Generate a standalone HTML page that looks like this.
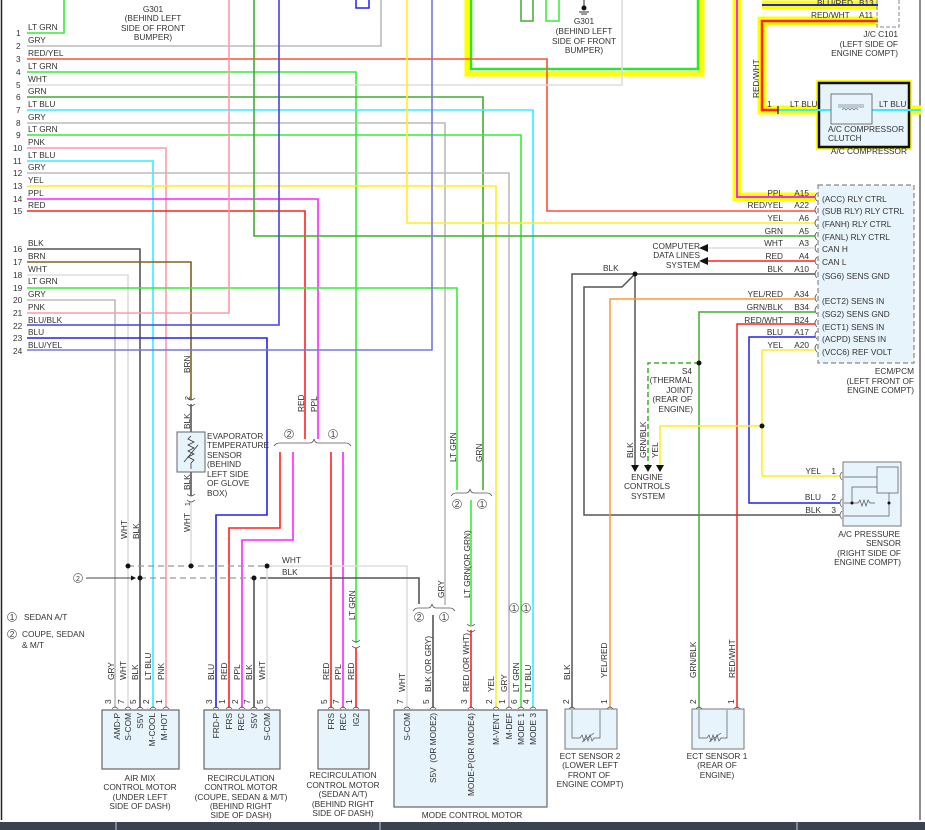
<!DOCTYPE html>
<html><head><meta charset="utf-8"><style>
html,body{margin:0;padding:0;background:#fff;}
svg{display:block;font-family:"Liberation Sans",sans-serif;}
text{font-size:8.3px;fill:#333;}
</style></head><body>
<svg width="925" height="830" viewBox="0 0 925 830" xmlns="http://www.w3.org/2000/svg">
<rect width="925" height="830" fill="#fff"/>
<line x1="1.5" y1="0" x2="1.5" y2="820" stroke="#222" stroke-width="1.5"/>
<line x1="920" y1="0" x2="920" y2="820" stroke="#444" stroke-width="1.2"/>

<!-- top-right yellow/green box -->
<rect x="467" y="-5" width="235" height="79" fill="none" stroke="#ffff00" stroke-width="5"/>
<rect x="471" y="-5" width="227" height="74" fill="none" stroke="#22ee22" stroke-width="2.5"/>
<rect x="521" y="-2" width="12" height="23" fill="none" stroke="#44aa33" stroke-width="1.5"/>
<rect x="546" y="-2" width="13" height="23" fill="none" stroke="#33ee33" stroke-width="1.5"/>
<line x1="584" y1="0" x2="584" y2="6" stroke="#222"/><circle cx="584" cy="8" r="2.5" fill="#111"/>
<line x1="579" y1="12" x2="589" y2="12" stroke="#333"/><line x1="581" y1="14" x2="587" y2="14" stroke="#333"/>
<g text-anchor="middle"><text x="584" y="24">G301</text><text x="584" y="34">(BEHIND LEFT</text><text x="584" y="44">SIDE OF FRONT</text><text x="584" y="53">BUMPER)</text></g>
<g text-anchor="middle"><text x="153" y="12">G301</text><text x="153" y="21">(BEHIND LEFT</text><text x="153" y="31">SIDE OF FRONT</text><text x="153" y="40">BUMPER)</text></g>
<rect x="356" y="-2" width="13" height="10" fill="none" stroke="#2222ee" stroke-width="1.5"/>

<g fill="none" stroke-width="1.6">
<!-- 1 LT GRN -->
<polyline points="27,33 64,33 64,0" stroke="#33ee33"/>
<!-- 2 GRY -->
<polyline points="27,46 381,46 381,0" stroke="#bbb"/>
<!-- 3 RED/YEL -->
<polyline points="27,59 547,59 547,211 815,211" stroke="#ff5030"/>
<!-- 4 LT GRN -> sedan recirc -->
<polyline points="27,72 356,72 356,643" stroke="#33ee33"/>
<!-- 5 WHT -->
<polyline points="27,85 622,85 622,0" stroke="#ddd"/>
<!-- 6 GRN -->
<polyline points="27,97 483,97 483,490" stroke="#44aa33"/>
<!-- 7 LT BLU -->
<polyline points="27,110 533,110 533,708" stroke="#33eeff"/>
<!-- 8 GRY -->
<polyline points="27,123 445,123 445,605" stroke="#bbb"/>
<!-- 9 LT GRN -->
<polyline points="27,135 521,135 521,708" stroke="#33ee33"/>
<!-- 10 PNK -->
<polyline points="27,148 166,148 166,708" stroke="#ff99aa"/>
<!-- 11 LT BLU -->
<polyline points="27,161 153,161 153,708" stroke="#33eeff"/>
<!-- 12 GRY -->
<polyline points="27,173 509,173 509,708" stroke="#bbb"/>
<!-- 13 YEL -->
<polyline points="27,186 496,186 496,708" stroke="#ffee22"/>
<!-- 14 PPL -->
<polyline points="27,199 318,199 318,439" stroke="#ff22ff"/>
<!-- 15 RED -->
<polyline points="27,211 305,211 305,439" stroke="#ff2020"/>
<!-- yel top -->
<polyline points="407,0 407,223 815,223" stroke="#ffee22"/>
<!-- GRN A5 -->
<polyline points="254,0 254,236 815,236" stroke="#44aa33"/>
<!-- 16 BLK -->
<polyline points="27,249 140,249 140,708" stroke="#555"/>
<!-- 17 BRN -->
<polyline points="27,262 191,262 191,400" stroke="#806020"/>
<!-- 18 WHT -->
<polyline points="27,275 128,275 128,708" stroke="#ddd"/>
<!-- 19 LT GRN -->
<polyline points="27,288 457,288 457,490" stroke="#33ee33"/>
<!-- 20 GRY -->
<polyline points="27,300 115,300 115,708" stroke="#bbb"/>
<!-- 21 PNK -->
<polyline points="27,313 229,313 229,0" stroke="#ff99aa"/>
<!-- 22 BLU/BLK -->
<polyline points="27,325 279,325 279,0" stroke="#4444dd"/>
<!-- 23 BLU -->
<polyline points="27,338 267,338 267,515 216,515 216,708" stroke="#2222ee"/>
<!-- 24 BLU/YEL -->
<polyline points="27,350 432,350 432,0" stroke="#7777dd"/>
<!-- recirc coupe red/ppl -->
<polyline points="280,452 280,528 229,528 229,708" stroke="#ff2020"/>
<polyline points="293,452 293,540 242,540 242,708" stroke="#ff22ff"/>
<line x1="331" y1="452" x2="331" y2="708" stroke="#ff2020"/>
<line x1="343" y1="452" x2="343" y2="708" stroke="#ff22ff"/>
<line x1="356" y1="648" x2="356" y2="708" stroke="#ff2020"/>
<!-- mode motor -->
<polyline points="471,500 471,625" stroke="#33ee33"/>
<polyline points="471,630 471,708" stroke="#ff2020"/>
<line x1="433" y1="615" x2="433" y2="708" stroke="#555"/>
<!-- evap -->
<line x1="191" y1="404" x2="191" y2="432" stroke="#555"/>
<line x1="191" y1="472" x2="191" y2="496" stroke="#555"/>
<line x1="191" y1="502" x2="191" y2="566" stroke="#ddd"/>
<!-- WHT / BLK buses -->
<polyline points="267,566 407,566 407,708" stroke="#ddd"/>
<polyline points="260,578 419,578 419,604" stroke="#555"/>
<line x1="254" y1="578" x2="254" y2="708" stroke="#555"/>
<line x1="267" y1="566" x2="267" y2="708" stroke="#ddd"/>
</g>
<g stroke-dasharray="6,4" stroke-width="1.2" fill="none">
<line x1="128" y1="566" x2="267" y2="566" stroke="#999"/>
<line x1="140" y1="578" x2="254" y2="578" stroke="#999"/>
</g>
<g fill="#111">
<circle cx="128" cy="566" r="2.5"/><circle cx="191" cy="566" r="2.5"/><circle cx="267" cy="566" r="2.5"/>
<circle cx="140" cy="578" r="2.5"/><circle cx="254" cy="578" r="2.5"/>
</g>
<line x1="86" y1="578" x2="133" y2="578" stroke="#444"/><polygon points="136,578 131,575.5 131,580.5" fill="#111"/>
<circle cx="78" cy="578" r="4.5" fill="none" stroke="#666" stroke-width="0.7"/><text x="78" y="581" text-anchor="middle" style="font-size:7px">2</text>

<!-- brackets -->
<g fill="none" stroke="#555" stroke-width="0.8">
<path d="M274,446 Q276,443 280,443 L310,443 Q313,443 314,439 Q315,443 318,443 L346,443 Q349,443 351,446"/>
<path d="M451,496 Q453,493 456,493 L466,493 Q469,493 470,489 Q471,493 474,493 L487,493 Q490,493 492,496"/>
<path d="M413,611 Q415,608 418,608 L428,608 Q431,608 432,604 Q433,608 436,608 L450,608 Q453,608 455,611"/>
</g>
<g text-anchor="middle" style="font-size:7px">
<circle cx="289" cy="434" r="4.5" fill="none" stroke="#666" stroke-width="0.7"/><text x="289" y="437">2</text>
<circle cx="333" cy="434" r="4.5" fill="none" stroke="#666" stroke-width="0.7"/><text x="333" y="437">1</text>
<circle cx="457" cy="504" r="4.5" fill="none" stroke="#666" stroke-width="0.7"/><text x="457" y="507">2</text>
<circle cx="482" cy="504" r="4.5" fill="none" stroke="#666" stroke-width="0.7"/><text x="482" y="507">1</text>
<circle cx="419" cy="617" r="4.5" fill="none" stroke="#666" stroke-width="0.7"/><text x="419" y="620">2</text>
<circle cx="444" cy="617" r="4.5" fill="none" stroke="#666" stroke-width="0.7"/><text x="444" y="620">1</text>
<circle cx="514" cy="608" r="4.5" fill="none" stroke="#666" stroke-width="0.7"/><text x="514" y="611">1</text>
<circle cx="526" cy="608" r="4.5" fill="none" stroke="#666" stroke-width="0.7"/><text x="526" y="611">1</text>
<circle cx="12" cy="617" r="4.5" fill="none" stroke="#666" stroke-width="0.7"/><text x="12" y="620">1</text>
<circle cx="12" cy="634" r="4.5" fill="none" stroke="#666" stroke-width="0.7"/><text x="12" y="637">2</text>
</g>
<text x="24" y="620">SEDAN A/T</text><text x="22" y="637">COUPE, SEDAN</text><text x="22" y="648">&amp; M/T</text>
<!-- inline connectors -->
<g fill="none" stroke="#555" stroke-width="0.8">
<path d="M352,640 Q356,644 360,640 M352,646 Q356,650 360,646"/>
<path d="M467,624 Q471,628 475,624 M467,630 Q471,634 475,630"/>
<path d="M187,398 Q191,402 195,398 M187,404 Q191,408 195,404"/>
<path d="M187,494 Q191,498 195,494 M187,500 Q191,504 195,500"/>
</g>
<!-- evap sensor -->
<rect x="177" y="432" width="28" height="40" fill="#e8f4fc" stroke="#666"/>
<path d="M191,436 l-3,3 6,3 -6,3 6,3 -6,3 6,3 -6,3 6,3 -3,3 v6" fill="none" stroke="#333" stroke-width="0.8"/>
<line x1="184" y1="462" x2="198" y2="445" stroke="#333" stroke-width="0.8"/>
<g><text x="207" y="439">EVAPORATOR</text><text x="207" y="448">TEMPERATURE</text><text x="207" y="458">SENSOR</text><text x="207" y="467">(BEHIND</text><text x="207" y="477">LEFT SIDE</text><text x="207" y="486">OF GLOVE</text><text x="207" y="496">BOX)</text></g>

<!-- left wire labels -->
<g>
<text x="16" y="36">1</text><text x="28" y="30">LT GRN</text>
<text x="16" y="49">2</text><text x="28" y="43">GRY</text>
<text x="16" y="62">3</text><text x="28" y="56">RED/YEL</text>
<text x="16" y="75">4</text><text x="28" y="69">LT GRN</text>
<text x="16" y="88">5</text><text x="28" y="82">WHT</text>
<text x="16" y="100">6</text><text x="28" y="94">GRN</text>
<text x="16" y="113">7</text><text x="28" y="107">LT BLU</text>
<text x="16" y="126">8</text><text x="28" y="120">GRY</text>
<text x="16" y="138">9</text><text x="28" y="132">LT GRN</text>
<text x="13" y="151">10</text><text x="28" y="145">PNK</text>
<text x="13" y="164">11</text><text x="28" y="158">LT BLU</text>
<text x="13" y="176">12</text><text x="28" y="170">GRY</text>
<text x="13" y="189">13</text><text x="28" y="183">YEL</text>
<text x="13" y="202">14</text><text x="28" y="196">PPL</text>
<text x="13" y="214">15</text><text x="28" y="208">RED</text>
<text x="13" y="252">16</text><text x="28" y="246">BLK</text>
<text x="13" y="265">17</text><text x="28" y="259">BRN</text>
<text x="13" y="278">18</text><text x="28" y="272">WHT</text>
<text x="13" y="291">19</text><text x="28" y="284">LT GRN</text>
<text x="13" y="303">20</text><text x="28" y="297">GRY</text>
<text x="13" y="316">21</text><text x="28" y="310">PNK</text>
<text x="13" y="329">22</text><text x="28" y="323">BLU/BLK</text>
<text x="13" y="341">23</text><text x="28" y="335">BLU</text>
<text x="13" y="354">24</text><text x="28" y="348">BLU/YEL</text>
</g>

<!-- rotated labels -->
<g>
<text transform="translate(190,373) rotate(-90)">BRN</text>
<text transform="translate(190,400) rotate(-90)" style="font-size:7px">2</text>
<text transform="translate(190,429) rotate(-90)">BLK</text>
<text transform="translate(190,490) rotate(-90)">BLK</text>
<text transform="translate(190,506) rotate(-90)" style="font-size:7px">1</text>
<text transform="translate(190,532) rotate(-90)">WHT</text>
<text transform="translate(127,539) rotate(-90)">WHT</text>
<text transform="translate(139,539) rotate(-90)">BLK</text>
<text transform="translate(304,412) rotate(-90)">RED</text>
<text transform="translate(317,412) rotate(-90)">PPL</text>
<text transform="translate(456,462) rotate(-90)">LT GRN</text>
<text transform="translate(482,462) rotate(-90)">GRN</text>
<text transform="translate(470,598) rotate(-90)">LT GRN</text>
<text transform="translate(470,569) rotate(-90)">(OR GRN)</text>
<text transform="translate(444,598) rotate(-90)">GRY</text>
<text transform="translate(355,620) rotate(-90)">LT GRN</text>
<text x="282" y="563">WHT</text><text x="282" y="575">BLK</text>
</g>

<!-- module pin labels -->
<g>
<text transform="translate(114,680) rotate(-90)">GRY</text>
<text transform="translate(126,680) rotate(-90)">WHT</text>
<text transform="translate(138,680) rotate(-90)">BLK</text>
<text transform="translate(151,680) rotate(-90)">LT BLU</text>
<text transform="translate(164,680) rotate(-90)">PNK</text>
<text transform="translate(214,680) rotate(-90)">BLU</text>
<text transform="translate(227,680) rotate(-90)">RED</text>
<text transform="translate(240,680) rotate(-90)">PPL</text>
<text transform="translate(252,680) rotate(-90)">BLK</text>
<text transform="translate(265,680) rotate(-90)">WHT</text>
<text transform="translate(329,680) rotate(-90)">RED</text>
<text transform="translate(341,680) rotate(-90)">PPL</text>
<text transform="translate(354,680) rotate(-90)">RED</text>
<text transform="translate(405,692) rotate(-90)">WHT</text>
<text transform="translate(431,692) rotate(-90)">BLK (OR GRY)</text>
<text transform="translate(469,692) rotate(-90)">RED (OR WHT)</text>
<text transform="translate(494,692) rotate(-90)">YEL</text>
<text transform="translate(507,692) rotate(-90)">GRY</text>
<text transform="translate(519,692) rotate(-90)">LT GRN</text>
<text transform="translate(531,692) rotate(-90)">LT BLU</text>
</g>
<g style="font-size:7px">
<text transform="translate(111,704) rotate(-90)">3</text><text transform="translate(124,704) rotate(-90)">7</text><text transform="translate(136,704) rotate(-90)">5</text><text transform="translate(149,704) rotate(-90)">2</text><text transform="translate(162,704) rotate(-90)">1</text>
<text transform="translate(212,704) rotate(-90)">3</text><text transform="translate(225,704) rotate(-90)">1</text><text transform="translate(238,704) rotate(-90)">2</text><text transform="translate(250,704) rotate(-90)">7</text><text transform="translate(263,704) rotate(-90)">5</text>
<text transform="translate(327,704) rotate(-90)">5</text><text transform="translate(339,704) rotate(-90)">7</text><text transform="translate(352,704) rotate(-90)">1</text>
<text transform="translate(403,704) rotate(-90)">7</text><text transform="translate(429,704) rotate(-90)">5</text><text transform="translate(467,704) rotate(-90)">3</text><text transform="translate(492,704) rotate(-90)">2</text><text transform="translate(505,704) rotate(-90)">1</text><text transform="translate(517,704) rotate(-90)">6</text><text transform="translate(529,704) rotate(-90)">4</text>
</g>
<!-- pin caps -->
<g fill="none" stroke="#555" stroke-width="0.8">
<path d="M112,709 q3,-4 6,0 M125,709 q3,-4 6,0 M137,709 q3,-4 6,0 M150,709 q3,-4 6,0 M163,709 q3,-4 6,0"/>
<path d="M213,709 q3,-4 6,0 M226,709 q3,-4 6,0 M239,709 q3,-4 6,0 M251,709 q3,-4 6,0 M264,709 q3,-4 6,0"/>
<path d="M328,709 q3,-4 6,0 M340,709 q3,-4 6,0 M353,709 q3,-4 6,0"/>
<path d="M404,709 q3,-4 6,0 M430,709 q3,-4 6,0 M468,709 q3,-4 6,0 M493,709 q3,-4 6,0 M506,709 q3,-4 6,0 M518,709 q3,-4 6,0 M530,709 q3,-4 6,0"/>
</g>
<!-- modules -->
<g fill="#e8f4fc" stroke="#666" stroke-width="1.2">
<rect x="102" y="710" width="77" height="59"/>
<rect x="204" y="710" width="76" height="59"/>
<rect x="318" y="710" width="51" height="59"/>
<rect x="394" y="710" width="153" height="97"/>
</g>
<g>
<text transform="translate(120,713) rotate(-90)" text-anchor="end">AMD-P</text>
<text transform="translate(131,713) rotate(-90)" text-anchor="end">S-COM</text>
<text transform="translate(143,713) rotate(-90)" text-anchor="end">S5V</text>
<text transform="translate(155,713) rotate(-90)" text-anchor="end">M-COOL</text>
<text transform="translate(167,713) rotate(-90)" text-anchor="end">M-HOT</text>
<text transform="translate(219,713) rotate(-90)" text-anchor="end">FRD-P</text>
<text transform="translate(232,713) rotate(-90)" text-anchor="end">FRS</text>
<text transform="translate(244,713) rotate(-90)" text-anchor="end">REC</text>
<text transform="translate(257,713) rotate(-90)" text-anchor="end">S5V</text>
<text transform="translate(270,713) rotate(-90)" text-anchor="end">S-COM</text>
<text transform="translate(334,713) rotate(-90)" text-anchor="end">FRS</text>
<text transform="translate(346,713) rotate(-90)" text-anchor="end">REC</text>
<text transform="translate(359,713) rotate(-90)" text-anchor="end">IG2</text>
<text transform="translate(410,713) rotate(-90)" text-anchor="end">S-COM</text>
<text transform="translate(436,713) rotate(-90)" text-anchor="end">(OR MODE2)</text>
<text transform="translate(436,783) rotate(-90)">S5V</text>
<text transform="translate(474,713) rotate(-90)" text-anchor="end">(OR MODE4)</text>
<text transform="translate(474,796) rotate(-90)">MODE-P</text>
<text transform="translate(499,713) rotate(-90)" text-anchor="end">M-VENT</text>
<text transform="translate(512,713) rotate(-90)" text-anchor="end">M-DEF</text>
<text transform="translate(524,713) rotate(-90)" text-anchor="end">MODE 1</text>
<text transform="translate(536,713) rotate(-90)" text-anchor="end">MODE 3</text>
</g>
<g text-anchor="middle">
<text x="140" y="781">AIR MIX</text><text x="140" y="790">CONTROL MOTOR</text><text x="140" y="800">(UNDER LEFT</text><text x="140" y="809">SIDE OF DASH)</text>
<text x="241" y="781">RECIRCULATION</text><text x="241" y="790">CONTROL MOTOR</text><text x="241" y="800">(COUPE, SEDAN &amp; M/T)</text><text x="241" y="809">(BEHIND RIGHT</text><text x="241" y="818">SIDE OF DASH)</text>
<text x="343" y="778">RECIRCULATION</text><text x="343" y="788">CONTROL MOTOR</text><text x="343" y="797">(SEDAN A/T)</text><text x="343" y="807">(BEHIND RIGHT</text><text x="343" y="816">SIDE OF DASH)</text>
<text x="472" y="818">MODE CONTROL MOTOR</text>
</g>

<!-- right side: highlighted wires -->
<g fill="none">
<polyline points="737,0 737,197 815,197" stroke="#ffff00" stroke-width="9"/>
<polyline points="737,0 737,197 815,197" stroke="#ff22ff" stroke-width="2"/>
<polyline points="762,5 878,5" stroke="#ffff00" stroke-width="9"/>
<polyline points="762,5 878,5" stroke="#2222ee" stroke-width="2"/>
<polyline points="878,21 762,21 762,110 778,110" stroke="#ffff00" stroke-width="9"/>
<polyline points="878,21 762,21 762,110 778,110" stroke="#ff2020" stroke-width="2.5"/>
<line x1="778" y1="110" x2="921" y2="110" stroke="#ffff00" stroke-width="9"/>
</g>
<rect x="816" y="80" width="96" height="70" fill="#ffff00"/>
<rect x="819" y="83" width="90" height="64" fill="#e8f4fc" stroke="#111" stroke-width="2.5"/>
<line x1="778" y1="110" x2="921" y2="110" stroke="#33eeff" stroke-width="2"/>
<rect x="831" y="94" width="41" height="30" fill="#e8f4fc" stroke="#555" stroke-width="0.8"/>
<path d="M838,105 h26 M838,107 h26 M842,110 q2,-3 4,0 q2,-3 4,0 q2,-3 4,0 q2,-3 4,0" fill="none" stroke="#444" stroke-width="0.6"/>
<line x1="778" y1="106" x2="778" y2="114" stroke="#111" stroke-width="1.2"/>
<text x="767" y="107">1</text><text x="790" y="107">LT BLU</text><text x="879" y="107">LT BLU</text>
<text x="828" y="132">A/C COMPRESSOR</text><text x="828" y="141">CLUTCH</text>
<text x="907" y="154" text-anchor="end">A/C COMPRESSOR</text>
<text x="817" y="6">BLU/RED</text><text x="859" y="6">B13</text>
<text x="811" y="18">RED/WHT</text><text x="859" y="18">A11</text>
<text transform="translate(759,98) rotate(-90)">RED/WHT</text>
<rect x="877" y="-2" width="22" height="29" fill="none" stroke="#888" stroke-dasharray="4,2"/>
<g text-anchor="end"><text x="898" y="37">J/C C101</text><text x="898" y="47">(LEFT SIDE OF</text><text x="898" y="56">ENGINE COMPT)</text></g>

<!-- ECM -->
<rect x="818" y="185" width="96" height="178" fill="#e8f4fc" stroke="#888" stroke-dasharray="5,3" stroke-width="1.2"/>
<g>
<text x="822" y="202">(ACC) RLY CTRL</text><text x="822" y="214">(SUB RLY) RLY CTRL</text><text x="822" y="227">(FANH) RLY CTRL</text><text x="822" y="240">(FANL) RLY CTRL</text>
<text x="822" y="252">CAN H</text><text x="822" y="265">CAN L</text><text x="822" y="279">(SG6) SENS GND</text>
<text x="822" y="304">(ECT2) SENS IN</text><text x="822" y="317">(SG2) SENS GND</text><text x="822" y="330">(ECT1) SENS IN</text><text x="822" y="342">(ACPD) SENS IN</text><text x="822" y="355">(VCC6) REF VOLT</text>
</g>
<g text-anchor="end">
<text x="783" y="196">PPL</text><text x="809" y="196">A15</text>
<text x="783" y="208">RED/YEL</text><text x="809" y="208">A22</text>
<text x="783" y="221">YEL</text><text x="809" y="221">A6</text>
<text x="783" y="234">GRN</text><text x="809" y="234">A5</text>
<text x="783" y="246">WHT</text><text x="809" y="246">A3</text>
<text x="783" y="259">RED</text><text x="809" y="259">A4</text>
<text x="783" y="272">BLK</text><text x="809" y="272">A10</text>
<text x="783" y="297">YEL/RED</text><text x="809" y="297">A34</text>
<text x="783" y="310">GRN/BLK</text><text x="809" y="310">B34</text>
<text x="783" y="323">RED/WHT</text><text x="809" y="323">B24</text>
<text x="783" y="335">BLU</text><text x="809" y="335">A17</text>
<text x="783" y="348">YEL</text><text x="809" y="348">A20</text>
<text x="914" y="374">ECM/PCM</text><text x="914" y="384">(LEFT FRONT OF</text><text x="914" y="393">ENGINE COMPT)</text>
</g>
<g fill="none" stroke="#555" stroke-width="0.8">
<path d="M817,193 q-4,4 0,8 M817,206 q-4,4 0,8 M817,219 q-4,4 0,8 M817,232 q-4,4 0,8 M817,244 q-4,4 0,8 M817,257 q-4,4 0,8 M817,270 q-4,4 0,8 M817,294 q-4,4 0,8 M817,306 q-4,4 0,8 M817,319 q-4,4 0,8 M817,331 q-4,4 0,8 M817,344 q-4,4 0,8"/>
</g>
<g fill="none" stroke-width="1.5">
<line x1="708" y1="248" x2="815" y2="248" stroke="#ddd"/>
<line x1="708" y1="261" x2="815" y2="261" stroke="#ff2020"/>
<polyline points="815,274 572,274 572,708" stroke="#555"/>
<polyline points="635,274 622,287 584,287 584,515 840,515" stroke="#555"/>
<line x1="635" y1="274" x2="635" y2="465" stroke="#555"/>
<polyline points="815,299 610,299 610,708" stroke="#ff9933"/>
<polyline points="815,312 699,312 699,708" stroke="#44aa33"/>
<polyline points="815,324 737,324 737,708" stroke="#ff2020"/>
<polyline points="815,337 749,337 749,503 840,503" stroke="#2222ee"/>
<polyline points="815,350 762,350 762,476 840,476" stroke="#ffee22"/>
<polyline points="762,426 660,426 660,465" stroke="#ffee22"/>
<polyline points="699,363 648,363 648,465" stroke="#44aa33" stroke-dasharray="5,3"/>
</g>
<polygon points="699,248 708,244 708,252" fill="#111"/><polygon points="699,261 708,257 708,265" fill="#111"/>
<g fill="#111"><circle cx="635" cy="274" r="2.5"/><circle cx="699" cy="363" r="2.5"/><circle cx="762" cy="426" r="2.5"/>
<polygon points="631,465 639,465 635,472"/><polygon points="644,465 652,465 648,472"/><polygon points="656,465 664,465 660,472"/></g>
<g text-anchor="end"><text x="700" y="249">COMPUTER</text><text x="700" y="258">DATA LINES</text><text x="700" y="268">SYSTEM</text></g>
<text x="603" y="271">BLK</text>
<g text-anchor="end"><text x="692" y="374">S4</text><text x="692" y="383">(THERMAL</text><text x="693" y="393">JOINT)</text><text x="692" y="402">(REAR OF</text><text x="693" y="412">ENGINE)</text></g>
<text transform="translate(633,458) rotate(-90)">BLK</text>
<text transform="translate(646,458) rotate(-90)">GRN/BLK</text>
<text transform="translate(658,458) rotate(-90)">YEL</text>
<g text-anchor="middle"><text x="647" y="480">ENGINE</text><text x="647" y="489">CONTROLS</text><text x="648" y="499">SYSTEM</text></g>

<!-- A/C pressure sensor -->
<rect x="843" y="462" width="58" height="64" fill="#e8f4fc" stroke="#777"/>
<rect x="877" y="467" width="21" height="26" fill="#e8f4fc" stroke="#666" stroke-width="0.8"/>
<g fill="none" stroke="#555" stroke-width="0.7">
<path d="M844,477 h33 M852,503 v-16 h25 M852,503 h6 l2,-3 2,6 2,-6 2,6 2,-6 2,3 h5 M889,493 v23 h-45 M844,503 h8"/>
<path d="M842,472 q-4,4 0,8 M842,499 q-4,4 0,8 M842,511 q-4,4 0,8"/>
</g>
<circle cx="852" cy="503" r="1.5" fill="#111"/><circle cx="889" cy="503" r="1.5" fill="#111"/>
<g text-anchor="end"><text x="821" y="474">YEL</text><text x="836" y="474">1</text><text x="821" y="500">BLU</text><text x="836" y="500">2</text><text x="821" y="513">BLK</text><text x="836" y="513">3</text>
<text x="900" y="537">A/C PRESSURE</text><text x="901" y="546">SENSOR</text><text x="901" y="556">(RIGHT SIDE OF</text><text x="901" y="565">ENGINE COMPT)</text></g>

<!-- ECT sensors -->
<rect x="565" y="709" width="52" height="40" fill="#e8f4fc" stroke="#777"/>
<rect x="692" y="709" width="52" height="40" fill="#e8f4fc" stroke="#777"/>
<g fill="none" stroke="#555" stroke-width="0.7">
<path d="M572,710 v28 h8 l2,-3 2,6 2,-6 2,6 2,-6 2,6 2,-3 h6 v-28 M582,742 l12,-9"/>
<path d="M699,710 v28 h8 l2,-3 2,6 2,-6 2,6 2,-6 2,6 2,-3 h6 v-28 M709,742 l12,-9"/>
<path d="M569,709 q3,-4 6,0 M607,709 q3,-4 6,0 M696,709 q3,-4 6,0 M734,709 q3,-4 6,0"/>
</g>
<text transform="translate(570,680) rotate(-90)">BLK</text>
<text transform="translate(607,678) rotate(-90)">YEL/RED</text>
<text transform="translate(696,678) rotate(-90)">GRN/BLK</text>
<text transform="translate(735,678) rotate(-90)">RED/WHT</text>
<g style="font-size:7px"><text transform="translate(569,704) rotate(-90)">2</text><text transform="translate(607,704) rotate(-90)">1</text><text transform="translate(696,704) rotate(-90)">2</text><text transform="translate(734,704) rotate(-90)">1</text></g>
<g text-anchor="middle"><text x="590" y="759">ECT SENSOR 2</text><text x="590" y="768">(LOWER LEFT</text><text x="589" y="778">FRONT OF</text><text x="590" y="787">ENGINE COMPT)</text>
<text x="717" y="759">ECT SENSOR 1</text><text x="717" y="768">(REAR OF</text><text x="717" y="778">ENGINE)</text></g>

<!-- bottom bar -->
<rect x="0" y="822" width="925" height="8" fill="#3b4250"/>
<line x1="116" y1="822" x2="116" y2="830" stroke="#ccc"/><line x1="380" y1="822" x2="380" y2="830" stroke="#ccc"/><line x1="797" y1="822" x2="797" y2="830" stroke="#ccc"/>
</svg>
</body></html>
